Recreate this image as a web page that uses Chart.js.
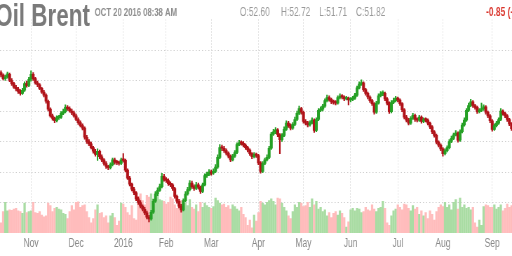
<!DOCTYPE html>
<html>
<head>
<meta charset="utf-8">
<script src="https://cdn.jsdelivr.net/npm/chart.js@4"></script>
<style>
html, body { margin: 0; padding: 0; background: #fff; overflow: hidden; width: 512px; height: 256px; }
#wrap { position: absolute; left: 0; top: 0; width: 730px; height: 256px; transform: scaleX(0.70137); transform-origin: 0 0; }
</style>
</head>
<body>
<div id="wrap"><canvas id="chart"></canvas></div>
<script>
// trading days, Oct 13 2015 .. Sep 14 2016 (index = trading day)
var monthIdx = [14, 35, 57, 77, 98, 120, 141, 163, 185, 206, 229];
var monthLabels = ["Nov", "Dec", "2016", "Feb", "Mar", "Apr", "May", "Jun", "Jul", "Aug", "Sep"];

var opens = [
    51.3,50.9,50.3,50.6,51.0,50.0,49.5,48.9,48.6,48.2,
    47.9,48.4,49.5,49.2,50.2,51.0,50.3,49.6,49.3,48.7,
    48.1,47.6,46.6,45.3,44.2,43.8,43.4,43.9,44.0,44.6,
    44.9,45.6,45.4,45.0,44.7,44.2,43.6,43.1,42.6,42.2,
    40.7,40.0,39.6,39.0,38.4,37.9,38.4,37.5,37.0,36.4,
    35.9,35.7,36.2,37.0,36.6,36.5,36.4,37.0,36.9,35.3,
    34.0,33.0,32.2,31.6,30.6,30.0,29.4,28.9,28.3,27.6,
    27.3,28.4,30.2,31.4,32.0,32.6,34.3,33.8,33.6,33.1,
    32.9,32.3,31.0,30.2,29.4,28.8,30.3,31.4,32.1,33.2,
    32.6,32.3,32.9,32.5,31.8,32.9,34.4,34.6,35.0,34.8,
    35.1,35.8,37.4,39.0,38.9,38.5,38.1,37.6,37.0,37.6,
    38.2,39.5,39.8,39.7,39.4,39.0,38.6,38.0,37.5,37.9,
    37.7,36.5,35.1,36.4,37.0,37.4,38.9,41.2,41.6,41.9,
    41.1,40.3,41.0,42.0,43.0,42.6,42.2,42.8,43.6,44.6,
    45.4,44.8,43.3,43.0,42.7,43.1,43.5,41.8,43.6,45.1,
    45.3,45.8,46.7,47.2,46.9,46.5,46.4,46.3,47.2,47.4,
    47.3,47.0,47.1,46.8,46.9,47.1,47.6,48.8,49.4,49.6,
    48.5,47.9,47.3,46.7,46.2,44.8,46.3,47.5,47.8,47.9,
    47.0,46.3,44.9,46.4,46.7,47.1,46.8,46.2,45.2,44.0,
    43.5,43.0,43.8,44.3,43.6,43.5,44.0,43.3,43.6,43.5,
    43.0,42.4,41.6,41.0,39.9,39.4,38.8,38.0,38.5,39.0,
    40.0,40.5,41.1,41.4,40.2,41.6,42.7,43.5,45.1,45.9,
    46.5,45.9,45.6,44.9,45.1,45.4,45.7,44.8,44.2,43.4,
    42.0,42.6,43.0,43.6,45.0,44.6,44.2,43.6,42.9
];
var highs = [
    51.6,51.1,50.9,51.4,51.2,50.3,49.7,49.2,48.9,48.5,
    48.7,49.8,49.9,50.5,51.6,51.3,50.5,49.9,49.5,48.9,
    48.4,47.8,46.8,45.5,44.5,44.0,44.2,44.3,44.9,45.3,
    46.0,45.9,45.7,45.3,45.0,44.5,43.9,43.4,42.9,42.4,
    41.0,40.3,39.9,39.2,38.7,38.8,38.6,37.8,37.2,36.7,
    36.1,36.5,37.3,37.3,36.9,36.8,37.3,38.0,37.1,35.5,
    34.3,33.2,32.5,31.8,30.9,30.3,29.6,29.2,28.6,27.9,
    28.7,30.5,31.8,32.4,33.0,34.8,34.6,34.1,33.9,33.4,
    33.1,32.5,31.2,30.5,29.7,30.6,31.8,32.5,33.6,33.5,
    32.9,33.3,33.2,32.7,33.2,34.7,35.0,35.4,35.3,35.5,
    36.2,37.8,39.5,39.4,39.2,38.8,38.3,37.8,37.9,38.5,
    39.8,40.2,40.1,40.0,39.6,39.2,38.8,38.2,38.2,38.1,
    37.9,36.7,36.7,37.3,37.8,39.2,41.5,42.0,42.3,42.1,
    41.3,41.3,42.4,43.4,43.3,42.9,43.1,44.0,45.0,45.8,
    45.6,45.0,43.6,43.3,43.4,43.9,43.7,43.9,45.4,45.7,
    46.1,47.0,47.6,47.5,47.1,46.8,46.7,47.5,47.8,47.7,
    47.5,47.4,47.3,47.2,47.4,47.9,49.1,49.8,50.1,49.8,
    48.7,48.1,47.5,46.9,46.4,46.6,47.8,48.2,48.3,48.1,
    47.2,46.5,46.7,47.1,47.4,47.3,47.0,46.4,45.4,44.3,
    43.8,44.1,44.6,44.5,43.9,44.3,44.2,43.9,43.9,43.7,
    43.2,42.6,41.8,41.2,40.1,39.6,39.0,38.8,39.3,40.3,
    40.9,41.4,41.8,41.6,41.9,43.0,43.9,45.4,46.3,46.9,
    46.7,46.1,45.8,45.4,46.3,46.0,45.9,45.0,44.4,43.6,
    42.9,43.3,43.9,45.4,45.2,44.8,44.4,43.8,43.1
];
var lows = [
    50.6,50.1,50.0,50.4,49.8,49.2,48.7,48.3,47.9,47.6,
    47.7,48.2,48.9,49.0,49.9,50.0,49.4,49.0,48.5,47.9,
    47.3,46.3,45.0,44.0,43.5,43.1,43.2,43.6,43.8,44.4,
    44.7,45.1,44.8,44.4,44.0,43.4,42.8,42.4,41.9,40.4,
    39.7,39.3,38.8,38.1,37.6,36.9,37.2,36.7,36.1,35.6,
    35.4,35.5,36.0,36.3,36.2,36.1,36.2,36.6,35.0,33.8,
    32.7,31.9,31.3,30.3,29.7,29.1,28.6,28.0,27.3,26.8,
    27.1,28.2,30.0,31.1,31.8,32.4,33.5,33.3,32.8,32.6,
    32.0,30.7,29.9,29.1,28.4,28.6,30.1,31.2,31.9,32.3,
    32.0,32.1,32.2,31.5,31.6,32.7,34.1,34.4,34.5,34.6,
    34.9,35.6,37.2,38.5,38.2,37.8,37.3,36.7,36.8,37.4,
    38.0,39.3,39.4,39.1,38.7,38.3,37.7,37.2,37.3,37.4,
    36.2,34.8,34.9,36.2,36.8,37.2,38.7,41.0,41.3,40.8,
    38.0,40.0,40.8,41.8,42.3,41.9,42.0,42.6,43.4,44.4,
    44.5,43.0,42.7,42.4,42.5,42.9,41.5,41.6,43.4,44.9,
    45.0,45.6,46.5,46.6,46.2,46.1,46.0,46.1,47.0,47.0,
    46.7,46.8,46.0,46.5,46.7,46.9,47.4,48.6,49.2,48.2,
    47.6,47.0,46.4,45.9,44.5,44.6,46.1,47.3,47.5,46.7,
    46.0,44.6,44.7,46.2,46.5,46.5,45.9,44.9,43.7,43.2,
    42.7,42.8,43.6,43.3,43.2,43.3,43.0,43.1,43.2,42.7,
    42.1,41.3,40.7,39.6,39.1,38.5,37.6,37.8,38.3,38.8,
    39.8,40.3,40.9,39.9,40.0,41.4,42.5,43.3,44.9,45.7,
    45.6,45.3,44.6,44.7,44.9,45.1,44.5,43.9,43.1,41.7,
    41.8,42.4,42.8,43.4,44.3,43.9,43.3,42.6,41.8
];
var closes = [
    50.9,50.3,50.6,51.1,50.0,49.5,48.9,48.6,48.2,47.9,
    48.4,49.5,49.2,50.2,51.0,50.3,49.6,49.3,48.7,48.1,
    47.6,46.6,45.3,44.2,43.8,43.4,43.9,44.0,44.6,44.9,
    45.6,45.4,45.0,44.7,44.2,43.6,43.1,42.6,42.2,40.7,
    40.0,39.6,39.0,38.4,37.9,38.4,37.5,37.0,36.4,35.9,
    35.7,36.2,37.0,36.6,36.5,36.4,37.0,36.9,35.3,34.0,
    33.0,32.2,31.6,30.6,30.0,29.4,28.9,28.3,27.6,27.3,
    28.4,30.2,31.4,32.0,32.6,34.3,33.8,33.6,33.1,32.9,
    32.3,31.0,30.2,29.4,28.8,30.3,31.4,32.1,33.2,32.6,
    32.3,32.9,32.5,31.8,32.9,34.4,34.6,35.0,34.8,35.1,
    35.8,37.4,39.0,38.9,38.5,38.1,37.6,37.0,37.6,38.2,
    39.5,39.8,39.7,39.4,39.0,38.6,38.0,37.5,37.9,37.7,
    36.5,35.1,36.4,37.0,37.4,38.9,41.2,41.6,41.9,41.1,
    40.3,41.0,42.0,43.0,42.6,42.2,42.8,43.6,44.6,45.4,
    44.8,43.3,43.0,42.7,43.1,43.5,41.8,43.6,45.1,45.3,
    45.8,46.7,47.2,46.9,46.5,46.4,46.3,47.2,47.4,47.3,
    47.0,47.1,46.8,46.9,47.1,47.6,48.8,49.4,49.6,48.5,
    47.9,47.3,46.7,46.2,44.8,46.3,47.5,47.8,47.9,47.0,
    46.3,44.9,46.4,46.7,47.1,46.8,46.2,45.2,44.0,43.5,
    43.0,43.8,44.3,43.6,43.5,44.0,43.3,43.6,43.5,43.0,
    42.4,41.6,41.0,39.9,39.4,38.8,38.0,38.5,39.0,40.0,
    40.5,41.1,41.4,40.2,41.6,42.7,43.5,45.1,45.9,46.5,
    45.9,45.6,44.9,45.1,45.4,45.7,44.8,44.2,43.4,42.0,
    42.6,43.0,43.6,45.0,44.6,44.2,43.6,42.9,42.1
];
// volume, thousand contracts
var volumes = [
    120,250,360,260,270,265,280,290,260,250,
    230,350,240,250,260,360,240,230,250,210,
    190,200,350,320,250,290,300,280,270,230,
    220,170,250,320,270,360,365,300,320,330,
    250,180,120,170,270,330,230,240,180,200,
    120,200,230,180,90,140,350,340,300,240,
    210,320,170,150,430,460,380,330,440,420,
    460,400,470,440,390,380,370,340,360,420,
    400,330,290,340,380,360,350,320,390,300,
    280,330,250,360,300,350,320,300,290,310,
    410,380,350,330,340,300,320,280,330,310,
    280,260,300,220,180,90,150,60,210,140,
    240,370,350,330,360,380,400,370,330,410,
    400,350,300,260,200,170,250,330,300,360,
    350,310,320,360,300,400,330,370,280,300,
    250,270,200,240,180,230,250,210,260,230,
    180,70,130,270,290,260,290,280,240,250,
    300,270,260,330,280,250,290,300,370,290,
    120,90,200,260,280,330,300,270,340,330,
    290,260,320,280,300,220,260,200,240,170,
    260,220,150,250,300,330,310,360,300,330,
    270,360,390,280,410,300,330,290,300,270,
    300,120,70,150,90,310,330,320,300,300,
    330,280,300,330,260,290,340,300,320
];

var title = "Oil Brent";
var stamp = "OCT 20 2016 08:38 AM";
var quote = ["O:52.60", "H:52.72", "L:51.71", "C:51.82"];
var change = "-0.85 (-1.61%)";

var GREEN = "#25a025", RED = "#b01219", VGREEN = "#a9dca3", VRED = "#ffbcbc";
var FONT = "'Liberation Sans', Arial, sans-serif";

function isUp(i) { return closes[i] >= opens[i]; }
var candleColors = closes.map((c, i) => isUp(i) ? GREEN : RED);

var header = {
    id: "header",
    afterDraw(chart) {
        var c = chart.ctx;
        c.save();
        c.textAlign = "left";
        c.textBaseline = "alphabetic";
        c.fillStyle = "#7a7a7a";
        c.font = "bold 32px " + FONT;
        c.fillText(title, -7, 26);
        c.fillStyle = "#8e8e8e";
        c.font = "bold 11px " + FONT;
        c.fillText(stamp, 135, 15.5);
        c.fillStyle = "#999";
        c.font = "12px " + FONT;
        var qx = [342, 400.5, 455, 507.5];
        quote.forEach((q, k) => c.fillText(q, qx[k], 15.5));
        c.fillStyle = "#d9342b";
        c.font = "bold 12px " + FONT;
        c.fillText(change, 693, 15.5);
        c.restore();
    }
};

new Chart(document.getElementById("chart"), {
    type: "bar",
    data: {
        datasets: [{
                label: "Volume",
                yAxisID: "yv",
                order: 3,
                grouped: false,
                barThickness: 2.6,
                data: volumes.map((v, i) => ({ x: i, y: v })),
                backgroundColor: volumes.map((v, i) => isUp(i) ? VGREEN : VRED)
            },
            {
                label: "Range",
                yAxisID: "y",
                order: 2,
                grouped: false,
                barThickness: 1.5,
                data: highs.map((h, i) => ({ x: i, y: [lows[i], h] })),
                backgroundColor: candleColors
            },
            {
                label: "Body",
                yAxisID: "y",
                order: 1,
                grouped: false,
                barThickness: 3.4,
                minBarLength: 1.5,
                data: opens.map((o, i) => ({ x: i, y: [o, closes[i]] })),
                backgroundColor: candleColors
            }
        ]
    },
    options: {
        responsive: true,
        maintainAspectRatio: false,
        animation: false,
        layout: { padding: { top: 19.5, left: 0, right: 0, bottom: 0 } },
        plugins: { legend: { display: false }, tooltip: { enabled: false } },
        scales: {
            x: {
                type: "linear",
                min: -0.466,
                max: 238.23,
                offset: false,
                grid: { offset: false, color: "#cdcdcd", drawTicks: false },
                border: { display: false, dash: [1, 2] },
                afterBuildTicks: (s) => { s.ticks = monthIdx.map(v => ({ value: v })); },
                afterFit: (s) => { s.height = 23; },
                ticks: {
                    autoSkip: false,
                    maxRotation: 0,
                    padding: 3,
                    color: "#888",
                    font: { family: FONT, size: 12 },
                    callback: (v, i) => monthLabels[i]
                }
            },
            y: {
                position: "right",
                min: 25,
                max: 60,
                ticks: { display: false, stepSize: 5 },
                grid: {
                    drawTicks: false,
                    color: (ctx) => (ctx.tick && ctx.tick.value > 26 && ctx.tick.value < 59) ? "#cdcdcd" : "rgba(0,0,0,0)"
                },
                border: { display: false, dash: [1.5, 3] },
                afterFit: (s) => { s.width = 0; }
            },
            yv: { display: false, min: 0, max: 2500 }
        }
    },
    plugins: [header]
});
</script>
</body>
</html>
